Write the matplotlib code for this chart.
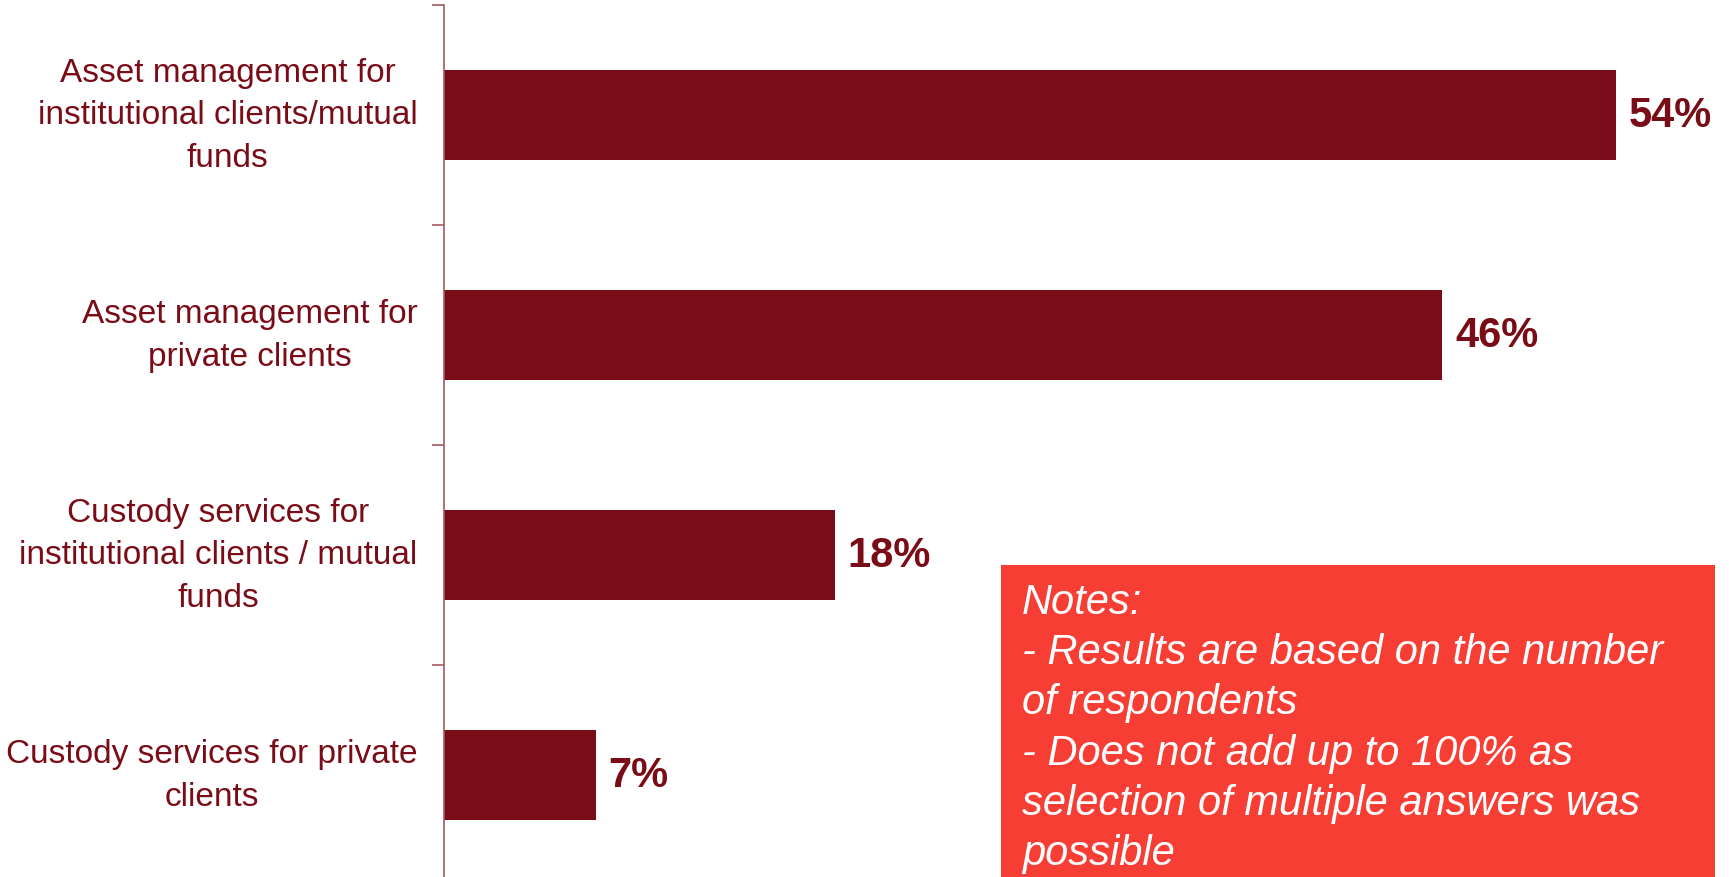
import matplotlib.pyplot as plt
from matplotlib.patches import Rectangle

categories = [
    "Asset management for\ninstitutional clients/mutual\nfunds",
    "Asset management for\nprivate clients",
    "Custody services for\ninstitutional clients / mutual\nfunds",
    "Custody services for private\nclients",
]
shares = [54, 46, 18, 7]
notes = ("Notes:\n- Results are based on the number\nof respondents\n"
         "- Does not add up to 100% as\nselection of multiple answers was\npossible")

bar_color = "#7A0C17"
spine_color = "#A45A60"
box_color = "#F73E35"

plt.rcParams['font.family'] = ['Liberation Sans', 'DejaVu Sans']

fig = plt.figure(figsize=(17.29, 8.78), dpi=100)
ax = fig.add_axes([444 / 1729, -8 / 878, 1 - 444 / 1729, 880 / 878])

pos = list(range(len(categories)))
ax.barh(pos, shares, height=0.405, color=bar_color)
for p, v in zip(pos, shares):
    ax.annotate(f"{v}%", xy=(v, p), xytext=(9, 0), textcoords='offset points',
                ha='left', va='center', fontsize=30, fontweight='bold', color=bar_color)

ax.set_xlim(0, 59.2)
ax.set_ylim(3.5, -0.5)

# band boundaries get the tick marks, band centres get the labels
ax.set_yticks([-0.5, 0.5, 1.5, 2.5])
ax.set_yticklabels([])
ax.set_yticks(pos, minor=True)
ax.set_yticklabels(categories, minor=True, fontsize=24, color=bar_color)
for t in ax.get_yticklabels(minor=True):
    t.set_multialignment('center')
    t.set_verticalalignment('center')
    t.set_linespacing(1.48)
ax.tick_params(axis='y', which='major', length=8.5, width=1.2, color=spine_color)
ax.tick_params(axis='y', which='minor', length=0, pad=19)
ax.set_xticks([])

for side in ['top', 'right', 'bottom']:
    ax.spines[side].set_visible(False)
ax.spines['left'].set_color(spine_color)
ax.spines['left'].set_linewidth(1.2)

fig.patches.append(Rectangle((1001 / 1729, 0), 714 / 1729, 312 / 878,
                             transform=fig.transFigure, facecolor=box_color,
                             edgecolor='none', zorder=5))
fig.text(1022 / 1729, (878 - 583) / 878, notes, ha='left', va='top',
         fontsize=30, fontstyle='italic', color='white', linespacing=1.33, zorder=6)

fig.savefig("out.png", dpi=100)
